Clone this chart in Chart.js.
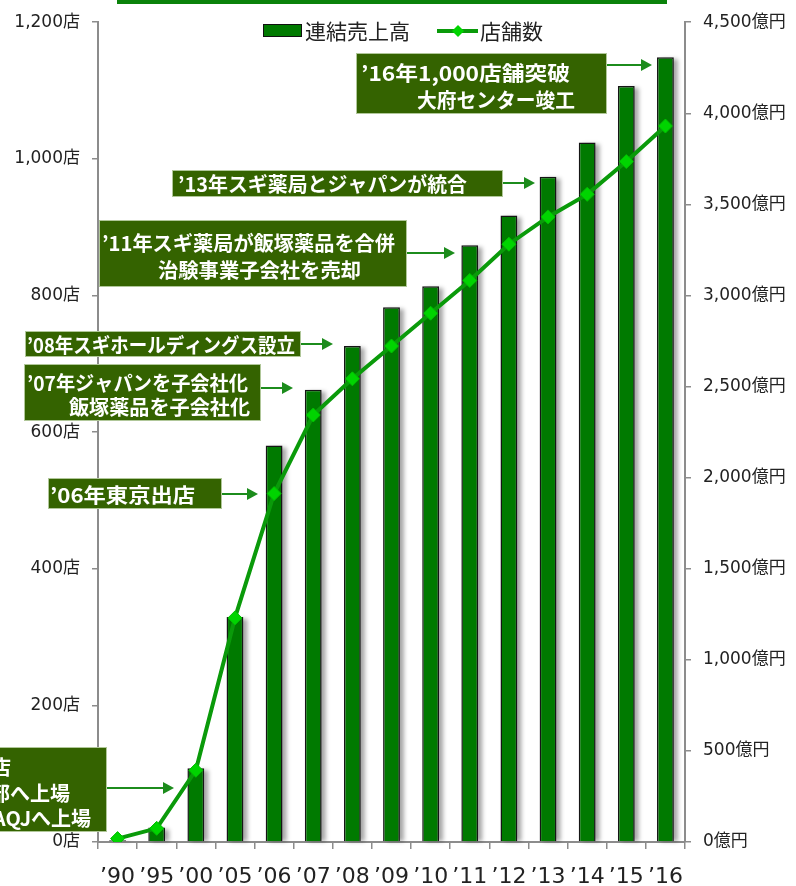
<!DOCTYPE html>
<html>
<head>
<meta charset="utf-8">
<script src="https://cdn.jsdelivr.net/npm/chart.js@4.4.1/dist/chart.umd.min.js"></script>
<style>
  html, body { margin: 0; padding: 0; background: #fff; }
  #wrap { width: 796px; height: 886px; }
</style>
</head>
<body>
<div id="wrap"><canvas id="salesChart" width="796" height="886"></canvas></div>
<script>
// data
const years = ["’90", "’95", "’00", "’05", "’06", "’07", "’08", "’09", "’10", "’11", "’12", "’13", "’14", "’15", "’16"];
const sales = [10, 80, 405, 1235, 2176, 2482, 2723, 2936, 3051, 3275, 3439, 3652, 3840, 4150, 4308]; // 億円
const stores = [5, 20, 105, 328, 510, 625, 678, 726, 774, 822, 875, 915, 948, 996, 1048]; // 店
const storeAxis = { min: 0, max: 1200, step: 200, unit: "店" };
const salesAxis = { min: 0, max: 4500, step: 500, unit: "億円" };
const legendLabels = ["連結売上高", "店舗数"];

// event notes: [text, x, y, width (0 = natural, right aligned)], box, arrow
const notes = [
  { lines: [["’16年1,000店舗突破", 361, 72, 209], ["大府センター竣工", 417, 99, 158]], box: [356, 53, 607, 114], arrow: [607, 652, 65] },
  { lines: [["’13年スギ薬局とジャパンが統合", 178, 183, 289]], box: [172, 170, 503, 197], arrow: [503, 535, 183] },
  { lines: [["’11年スギ薬局が飯塚薬品を合併", 102, 242, 293], ["治験事業子会社を売却", 158, 269, 203]], box: [99, 220, 407, 287], arrow: [407, 455, 253] },
  { lines: [["’08年スギホールディングス設立", 27, 344, 268]], box: [25, 331, 301, 357], arrow: [301, 333, 344] },
  { lines: [["’07年ジャパンを子会社化", 27, 382, 221], ["飯塚薬品を子会社化", 69, 406, 181]], box: [24, 364, 261, 421], arrow: [261, 293, 388] },
  { lines: [["’06年東京出店", 50, 494, 145]], box: [48, 478, 222, 509], arrow: [222, 258, 494] },
  { lines: [["’00年100店", 11, 766, 0], ["東証1部へ上場", 70, 792, 0], ["NASDAQJへ上場", 91, 817, 0]], box: [-10, 747, 107, 832], arrow: [107, 174, 788] }
];

const BAR_GREEN = "#007a00";
const LINE_GREEN = "#0a9a0a";
const MARK_GREEN = "#00d400";
const NOTE_BG = "#346300";
const ARROW_GREEN = "#1c8c1c";
const fontFam = "'DejaVu Sans', 'Noto Sans CJK JP', sans-serif";
const noteFont = "bold 20px 'Noto Sans CJK JP', sans-serif";

const fmt = (v) => v.toLocaleString("en-US");

const barShadow = {
  id: "barShadow",
  beforeDatasetsDraw(chart) {
    const meta = chart.getDatasetMeta(1);
    const ctx = chart.ctx;
    ctx.save();
    ctx.fillStyle = "rgba(0,0,0,0.35)";
    ctx.filter = "blur(2px)";
    meta.data.forEach((bar) => {
      const w = bar.width;
      ctx.fillRect(bar.x - w / 2 + 4, bar.y + 2, w, bar.base - bar.y - 2);
    });
    ctx.restore();
  }
};

function drawArrow(ctx, x1, x2, y) {
  ctx.strokeStyle = ARROW_GREEN;
  ctx.fillStyle = ARROW_GREEN;
  ctx.lineWidth = 2;
  ctx.beginPath();
  ctx.moveTo(x1, y);
  ctx.lineTo(x2 - 8, y);
  ctx.stroke();
  ctx.beginPath();
  ctx.moveTo(x2, y);
  ctx.lineTo(x2 - 11, y - 6);
  ctx.lineTo(x2 - 11, y + 6);
  ctx.closePath();
  ctx.fill();
}

const overlay = {
  id: "overlay",
  afterDraw(chart) {
    const ctx = chart.ctx;
    ctx.save();

    // green strip along the top
    ctx.fillStyle = "#0a820a";
    ctx.fillRect(117, 0, 550, 4);

    // legend
    ctx.fillStyle = BAR_GREEN;
    ctx.fillRect(263, 24, 39, 13);
    ctx.strokeStyle = "#111";
    ctx.lineWidth = 1;
    ctx.strokeRect(263.5, 24.5, 38, 12);
    ctx.font = "21px 'Noto Sans CJK JP', sans-serif";
    ctx.fillStyle = "#222";
    ctx.textBaseline = "middle";
    ctx.fillText(legendLabels[0], 305, 31);
    ctx.strokeStyle = LINE_GREEN;
    ctx.lineWidth = 4;
    ctx.beginPath();
    ctx.moveTo(437, 31);
    ctx.lineTo(478, 31);
    ctx.stroke();
    ctx.fillStyle = MARK_GREEN;
    ctx.beginPath();
    ctx.moveTo(458, 25);
    ctx.lineTo(464, 31);
    ctx.lineTo(458, 37);
    ctx.lineTo(452, 31);
    ctx.closePath();
    ctx.fill();
    ctx.fillStyle = "#222";
    ctx.fillText(legendLabels[1], 480, 31);

    // notes
    notes.forEach((n) => {
      const [x1, y1, x2, y2] = n.box;
      ctx.fillStyle = NOTE_BG;
      ctx.fillRect(x1, y1, x2 - x1, y2 - y1);
      ctx.strokeStyle = "rgba(190,210,170,0.9)";
      ctx.lineWidth = 1;
      ctx.strokeRect(x1 + 0.5, y1 + 0.5, x2 - x1 - 1, y2 - y1 - 1);
      ctx.font = noteFont;
      ctx.fillStyle = "#fff";
      ctx.textBaseline = "middle";
      n.lines.forEach(([txt, x, y, w]) => {
        const natural = ctx.measureText(txt).width;
        ctx.save();
        ctx.translate(x, y);
        if (w > 0) {
          ctx.scale(w / natural, 1);
          ctx.textAlign = "left";
        } else {
          ctx.textAlign = "right";
        }
        ctx.fillText(txt, 0, 1);
        ctx.restore();
      });
      drawArrow(ctx, n.arrow[0], n.arrow[1], n.arrow[2]);
    });
    ctx.restore();
  }
};

const ctx = document.getElementById("salesChart").getContext("2d");

new Chart(ctx, {
  type: "bar",
  data: {
    labels: years,
    datasets: [
      {
        type: "line",
        label: legendLabels[1],
        data: stores,
        yAxisID: "yStores",
        borderColor: LINE_GREEN,
        borderWidth: 4,
        tension: 0,
        pointStyle: "rectRot",
        pointRadius: 7,
        pointBackgroundColor: MARK_GREEN,
        pointBorderColor: "#00c000",
        pointBorderWidth: 1,
        order: 0
      },
      {
        type: "bar",
        label: legendLabels[0],
        data: sales,
        yAxisID: "ySales",
        backgroundColor: BAR_GREEN,
        borderColor: "#151515",
        borderWidth: 1.5,
        barPercentage: 0.43,
        categoryPercentage: 1,
        order: 1
      }
    ]
  },
  options: {
    responsive: false,
    animation: false,
    devicePixelRatio: 1,
    layout: { padding: { top: 18, left: 0, right: 0, bottom: 0 } },
    plugins: {
      legend: { display: false },
      tooltip: { enabled: false }
    },
    scales: {
      x: {
        offset: true,
        grid: { offset: true, drawOnChartArea: false, tickLength: 7, color: "#8c8c8c", lineWidth: 1.5 },
        border: { color: "#8c8c8c", width: 2 },
        ticks: { font: { family: fontFam, size: 22 }, color: "#222", padding: 15, maxRotation: 0, autoSkip: false },
        afterFit: (s) => { s.height = 44; }
      },
      yStores: {
        position: "left",
        min: storeAxis.min,
        max: storeAxis.max,
        grid: { drawOnChartArea: false, tickLength: 6, color: "#8c8c8c", lineWidth: 1.5 },
        border: { color: "#8c8c8c", width: 2 },
        ticks: {
          stepSize: storeAxis.step,
          padding: 12,
          color: "#222",
          font: { family: fontFam, size: 17 },
          callback: (v) => fmt(v) + storeAxis.unit
        },
        afterFit: (s) => { s.width = 98; }
      },
      ySales: {
        position: "right",
        min: salesAxis.min,
        max: salesAxis.max,
        grid: { drawOnChartArea: false, tickLength: 6, color: "#8c8c8c", lineWidth: 1.5 },
        border: { color: "#8c8c8c", width: 2 },
        ticks: {
          stepSize: salesAxis.step,
          padding: 12,
          color: "#222",
          font: { family: fontFam, size: 17 },
          callback: (v) => fmt(v) + salesAxis.unit
        },
        afterFit: (s) => { s.width = 111; }
      }
    }
  },
  plugins: [barShadow, overlay]
});
</script>
</body>
</html>
